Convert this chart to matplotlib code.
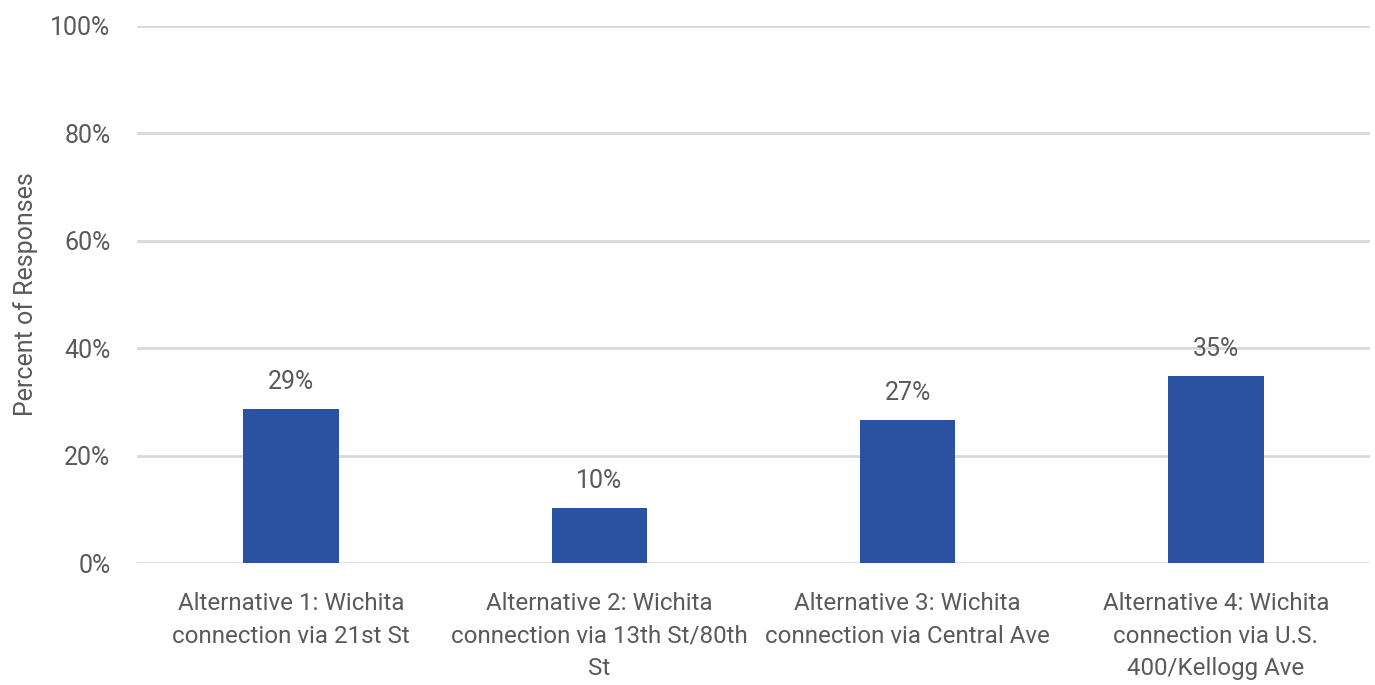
import matplotlib.pyplot as plt
from matplotlib.ticker import PercentFormatter

# datos
categorias = [
    "Alternative 1: Wichita\nconnection via 21st St",
    "Alternative 2: Wichita\nconnection via 13th St/80th\nSt",
    "Alternative 3: Wichita\nconnection via Central Ave",
    "Alternative 4: Wichita\nconnection via U.S.\n400/Kellogg Ave",
]
valores = [28.6, 10.2, 26.6, 34.8]
etiquetas = ["29%", "10%", "27%", "35%"]

gris = "#5a5a5a"
azul = "#2B52A0"

plt.rcParams['font.family'] = ['Roboto', 'DejaVu Sans']

fig = plt.figure(figsize=(13.75, 6.85), dpi=100)
ax = fig.add_axes([0.0996, 0.178, 0.8968, 0.7845])

x = range(len(categorias))
barras = ax.bar(x, valores, width=0.31, color=azul, zorder=3)

for b, txt in zip(barras, etiquetas):
    ax.annotate(txt, (b.get_x() + b.get_width() / 2, b.get_height()),
                xytext=(0, 11), textcoords="offset points",
                ha="center", va="bottom", fontsize=18, color=gris)

ax.set_ylim(0, 100)
ax.set_xlim(-0.5, len(categorias) - 0.5)
ax.set_yticks([0, 20, 40, 60, 80, 100])
ax.yaxis.set_major_formatter(PercentFormatter(decimals=0))
ax.set_xticks(list(x))
ax.set_xticklabels(categorias, fontsize=17.4, color=gris, linespacing=1.52)
ax.tick_params(axis="y", labelsize=18, labelcolor=gris, length=0, pad=19)
ax.tick_params(axis="x", length=0, pad=21)

ax.grid(axis="y", color="#D9D9D9", linewidth=2, zorder=0)
for s in ax.spines.values():
    s.set_visible(False)

ax.set_ylabel("Percent of Responses", fontsize=18, color=gris, labelpad=9)

fig.savefig("out.png", dpi=100)
